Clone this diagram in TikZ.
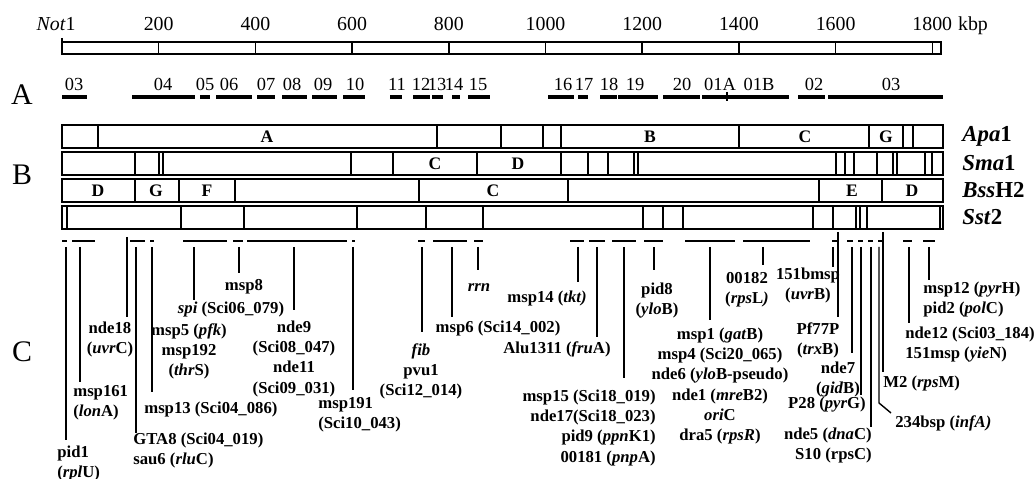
\documentclass[tikz,border=0pt]{standalone}
\usepackage{fontspec}
\setmainfont{Liberation Serif}
\usetikzlibrary{positioning}

\begin{document}
\begin{tikzpicture}[
    x=0.02cm, y=-0.02cm,
    % --- STYLES ---
    bar/.style={draw, line width=0.9pt},
    cut/.style={line width=0.9pt},
    frag/.style={line width=1.8pt},
    seg/.style={line width=0.9pt},
    marker/.style={line width=0.8pt},
    scale label/.style={font=\fontsize{11.3}{13}\selectfont, anchor=base, inner sep=0pt},
    frag label/.style={font=\fontsize{10.5}{12}\selectfont, anchor=base, inner sep=0pt},
    band/.style={font=\bfseries\fontsize{10}{12}\selectfont, inner sep=0pt},
    enzyme/.style={font=\bfseries\fontsize{13}{15}\selectfont, anchor=west, inner sep=0pt},
    panel/.style={font=\fontsize{17}{20}\selectfont, inner sep=0pt},
    tag/.style={font=\bfseries\fontsize{9.5}{11.4}\selectfont, inner sep=0pt, align=center, anchor=base},
    stack/.style={tag, anchor=north}
]
    \useasboundingbox (0,0) rectangle (1035,479);

    % ==========================================
    % SCALE (kbp)
    % ==========================================
    \draw[bar] (62,42) rectangle (941,54);
    \draw[cut] (62,38) -- (62,42);
    \foreach \k in {200,400,...,1800} {
        \draw[cut] ({62+0.4835*\k},42) -- ++(0,12);
        \node[scale label] (t\k) at ({62+0.4835*\k},31) {\k};
    }
    \node[scale label, anchor=base east] (not) at (76,31) {\textit{Not}1};
    \node[scale label, anchor=base west] (kbp) at ([xshift=3pt]t1800.base east) {kbp};

    % ==========================================
    % PANEL A (fragments)
    % ==========================================
    \node[panel] (pA) at (22,95) {A};
    \foreach \a/\b/\c/\lab [count=\i] in {62/87/74/03, 132/195/163/04, 200/210/205/05,
        216/252/229/06, 257/275/266/07, 282/307/292/08, 312/337/323/09, 343/365/355/10,
        390/402/397/11, 413/430/421/12, 432/443/437/13, 452/460/454/14, 468/490/478/15,
        548/574/563/16, 578/588/584/17, 600/617/609/18, 618/658/635/19, 663/700/682/20,
        702/727/720/01A, 727/789/759/01B, 798/825/814/02, 828/943/891/03} {
        \draw[frag] (\a,97) -- (\b,97);
        \node[frag label] (frag\i) at (\c,91) {\lab};
    }
    \draw[cut] (727,92) -- (727,101);

    % ==========================================
    % PANEL B (restriction maps)
    % ==========================================
    \node[panel] (pB) at (22,175) {B};

    % Apa1
    \draw[bar] (62,125) rectangle (943,148);
    \foreach \x in {98,437,501,543,561,739,869,903,913}
        \draw[cut] (\x,125) -- (\x,148);
    \foreach \x/\lab in {267/A, 650/B, 805/C, 886/G}
        \node[band] (apa\lab) at (\x,136.5) {\lab};
    \node[enzyme] (apa) at (962,136.5) {\textit{Apa}1};

    % Sma1
    \draw[bar] (62,152) rectangle (943,175);
    \foreach \x in {135,159,163,351,393,477,561,588,608,634,638,836,845,854,877,893,897,925,932}
        \draw[cut] (\x,152) -- (\x,175);
    \foreach \x/\lab in {435/C, 518/D}
        \node[band] (sma\lab) at (\x,163.5) {\lab};
    \node[enzyme] (sma) at (962,163.5) {\textit{Sma}1};

    % BssH2
    \draw[bar] (62,179) rectangle (943,202);
    \foreach \x in {135,179,235,419,568,819,882}
        \draw[cut] (\x,179) -- (\x,202);
    \foreach \x/\lab [count=\i] in {98/D, 156/G, 207/F, 493/C, 852/E, 912/D}
        \node[band] (bss\i) at (\x,190.5) {\lab};
    \node[enzyme] (bss) at (962,190.5) {\textit{Bss}H2};

    % Sst2
    \draw[bar] (62,206) rectangle (943,229);
    \foreach \x in {67,181,244,357,426,483,643,663,683,813,833,856,860,867,940}
        \draw[cut] (\x,206) -- (\x,229);
    \node[enzyme] (sst) at (962,217.5) {\textit{Sst}2};

    % ==========================================
    % PANEL C (probes)
    % ==========================================
    \node[panel] (pC) at (22,352) {C};

    \foreach \a/\b in {62/67, 72/95, 130/145, 150/154, 183/227, 233/243, 247/347, 352/355,
        418/425, 433/467, 474/483, 570/584, 589/605, 612/636, 644/663, 685/735, 743/810,
        832/837, 847/853, 858/863, 868/873, 878/882, 903/912, 923/935}
        \draw[seg] (\a,241) -- (\b,241);

    \foreach \n/\x/\t/\b in {pid1/66/247/440, msp161/80/247/382, nde18/127/237/317,
        gta8/136/247/433, msp13/152/247/392, spi/194/247/300, msp8/239/247/273,
        nde9/294/247/310, msp191/353/247/390, fib/422/247/332, msp6/452/247/317,
        rrn/478/247/270, msp14/578/247/282, alu/597/247/337, msp15/624/247/378,
        pid8/654/247/270, msp1/710/247/320, n00182/763/247/265, bmsp/833/247/267,
        pf77p/838/232/317, nde7/852/247/353, p28/861/247/395, nde5/871/247/427,
        m2/883/232/372, nde12/909/247/323, msp12/929/247/280} {
        \coordinate (\n-top) at (\x,\t);
        \coordinate (\n-end) at (\x,\b);
        \draw[marker] (\n-top) -- (\n-end);
    }
    \coordinate (infa-top) at (879,247);
    \coordinate (infa-end) at (891,413);
    \draw[marker] (infa-top) -- (879,403) -- (infa-end);

    % probe labels
    \node[stack, anchor=north west, align=left] (pid1) at (57,446) {pid1\\(\textit{rpl}U)};
    \node[stack, anchor=north west, align=left] (msp161) at (73,385) {msp161\\(\textit{lon}A)};
    \node[stack] (nde18) at (110,322) {nde18\\(\textit{uvr}C)};
    \node[stack, anchor=north west, align=left] (gta8) at (133,433) {GTA8 (Sci04\_019)\\sau6 (\textit{rlu}C)};
    \node[tag, anchor=base west] (msp13) at (144,414) {msp13 (Sci04\_086)};
    \node[stack] (msp5) at (189,323) {msp5 (\textit{pfk})\\msp192\\(\textit{thr}S)};
    \node[tag] (spi) at (231,314) {\textit{spi} (Sci06\_079)};
    \node[tag] (msp8) at (244,291) {msp8};
    \node[stack] (nde9) at (294,321) {nde9\\(Sci08\_047)\\nde11\\(Sci09\_031)};
    \node[stack, anchor=north west, align=left] (msp191) at (318,397) {msp191\\(Sci10\_043)};
    \node[stack] (fib) at (421,343) {\textit{fib}\\pvu1\\(Sci12\_014)};
    \node[tag] (msp6) at (498,333) {msp6 (Sci14\_002)};
    \node[tag] (rrn) at (479,292) {\textit{rrn}};
    \node[tag] (msp14) at (547,303) {msp14 (\textit{tkt)}};
    \node[tag] (alu) at (557,354) {Alu1311 (\textit{fru}A)};
    \node[stack, anchor=north east, align=right] (msp15) at (656,390) {msp15 (Sci18\_019)\\nde17(Sci18\_023)\\pid9 (\textit{ppn}K1)\\00181 (\textit{pnp}A)};
    \node[stack] (pid8) at (657,283) {pid8\\(\textit{ylo}B)};
    \node[stack] (msp1) at (720,328) {msp1 (\textit{gat}B)\\msp4 (Sci20\_065)\\nde6 (\textit{ylo}B-pseudo)\\nde1 (\textit{mre}B2)\\\textit{ori}C\\dra5 (\textit{rpsR})};
    \node[stack] (n00182) at (747,272) {00182\\(\textit{rps}L\textit{)}};
    \node[stack] (bmsp) at (808,268) {151bmsp\\(\textit{uvr}B)};
    \node[stack] (pf77p) at (818,322) {Pf77P\\(\textit{trx}B)};
    \node[stack] (nde7) at (838,362) {nde7\\(\textit{gid}B)};
    \node[tag] (p28) at (827,409) {P28 (\textit{pyr}G)};
    \node[stack, anchor=north east, align=right] (nde5) at (872,428) {nde5 (\textit{dna}C)\\S10 (rpsC)};
    \node[tag, anchor=base west] (m2) at (883,388) {M2 (\textit{rps}M)};
    \node[tag, anchor=base west] (infa) at (895,428) {234bsp (\textit{infA)}};
    \node[stack, anchor=north west, align=left] (msp12) at (923,282) {msp12 (\textit{pyr}H)\\pid2 (\textit{pol}C)};
    \node[stack, anchor=north west, align=left] (nde12) at (905,327) {nde12 (Sci03\_184)\\151msp (\textit{yie}N)};

\end{tikzpicture}
\end{document}
